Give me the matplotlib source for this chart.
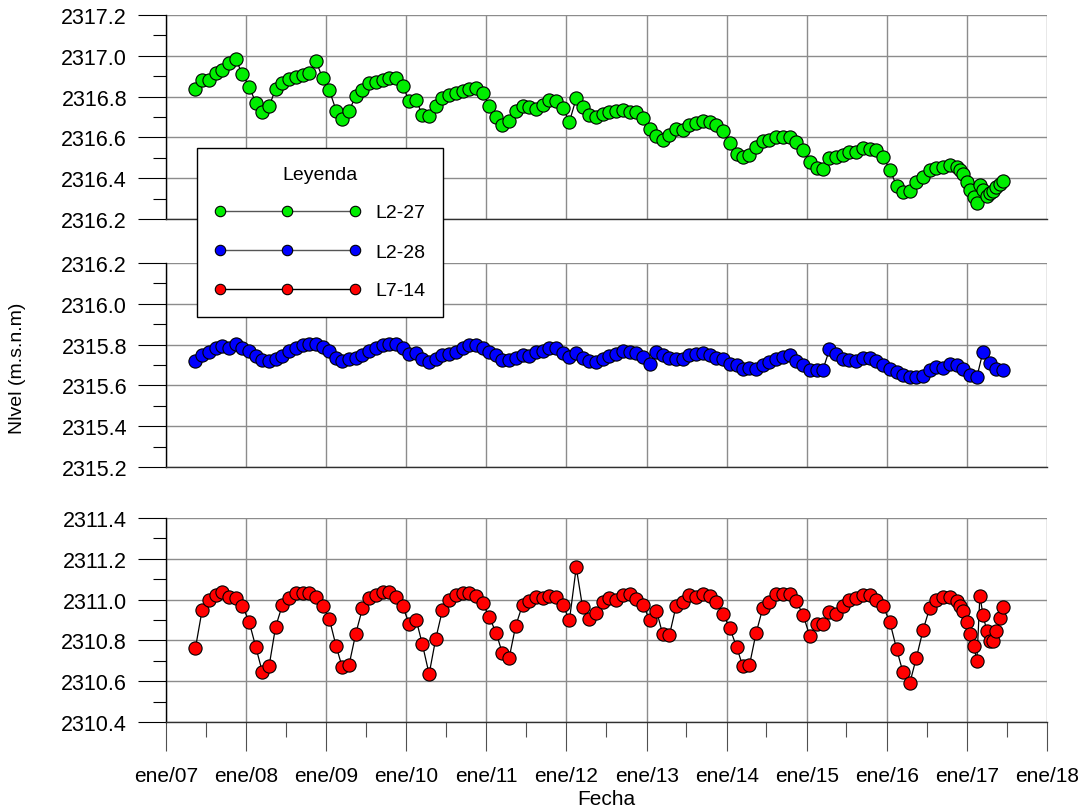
import matplotlib
matplotlib.use("Agg")
import matplotlib.pyplot as plt
import matplotlib.dates as mdates
from matplotlib.lines import Line2D
from matplotlib.ticker import MultipleLocator, FormatStrFormatter, FuncFormatter
import numpy as np
import pandas as pd

# fechas de medicion: mensual hasta nov/16, luego quincenal
fechas = pd.to_datetime([
    "2007-05-15", "2007-06-15", "2007-07-15", "2007-08-15", "2007-09-15", "2007-10-15", "2007-11-15", "2007-12-15",
    "2008-01-15", "2008-02-15", "2008-03-15", "2008-04-15", "2008-05-15", "2008-06-15",
    "2008-07-15", "2008-08-15", "2008-09-15", "2008-10-15", "2008-11-15", "2008-12-15",
    "2009-01-15", "2009-02-15", "2009-03-15", "2009-04-15", "2009-05-15", "2009-06-15",
    "2009-07-15", "2009-08-15", "2009-09-15", "2009-10-15", "2009-11-15", "2009-12-15",
    "2010-01-15", "2010-02-15", "2010-03-15", "2010-04-15", "2010-05-15", "2010-06-15",
    "2010-07-15", "2010-08-15", "2010-09-15", "2010-10-15", "2010-11-15", "2010-12-15",
    "2011-01-15", "2011-02-15", "2011-03-15", "2011-04-15", "2011-05-15", "2011-06-15",
    "2011-07-15", "2011-08-15", "2011-09-15", "2011-10-15", "2011-11-15", "2011-12-15",
    "2012-01-15", "2012-02-15", "2012-03-15", "2012-04-15", "2012-05-15", "2012-06-15",
    "2012-07-15", "2012-08-15", "2012-09-15", "2012-10-15", "2012-11-15", "2012-12-15",
    "2013-01-15", "2013-02-15", "2013-03-15", "2013-04-15", "2013-05-15", "2013-06-15",
    "2013-07-15", "2013-08-15", "2013-09-15", "2013-10-15", "2013-11-15", "2013-12-15",
    "2014-01-15", "2014-02-15", "2014-03-15", "2014-04-15", "2014-05-15", "2014-06-15",
    "2014-07-15", "2014-08-15", "2014-09-15", "2014-10-15", "2014-11-15", "2014-12-15",
    "2015-01-15", "2015-02-15", "2015-03-15", "2015-04-15", "2015-05-15", "2015-06-15",
    "2015-07-15", "2015-08-15", "2015-09-15", "2015-10-15", "2015-11-15", "2015-12-15",
    "2016-01-15", "2016-02-15", "2016-03-15", "2016-04-15", "2016-05-15", "2016-06-15",
    "2016-07-15", "2016-08-15", "2016-09-15", "2016-10-15", "2016-11-15",
    "2016-12-01", "2016-12-15", "2017-01-01", "2017-01-15", "2017-02-01", "2017-02-15",
    "2017-03-01", "2017-03-15", "2017-04-01", "2017-04-15", "2017-05-01", "2017-05-15",
    "2017-06-01", "2017-06-15",
])

nivel_l2_27 = [
    2316.837, 2316.883, 2316.883, 2316.914, 2316.932, 2316.963, 2316.984, 2316.911,
    2316.849, 2316.769, 2316.723, 2316.752, 2316.837, 2316.865, 2316.886, 2316.898, 2316.907, 2316.914, 2316.976, 2316.890,
    2316.832, 2316.731, 2316.690, 2316.731, 2316.801, 2316.832, 2316.865, 2316.873, 2316.883, 2316.890, 2316.891, 2316.853,
    2316.777, 2316.783, 2316.710, 2316.703, 2316.755, 2316.795, 2316.808, 2316.819, 2316.826, 2316.837, 2316.842, 2316.818,
    2316.755, 2316.699, 2316.662, 2316.682, 2316.731, 2316.755, 2316.748, 2316.739, 2316.760, 2316.783, 2316.777, 2316.744,
    2316.677, 2316.792, 2316.750, 2316.710, 2316.701, 2316.715, 2316.723, 2316.731, 2316.736, 2316.726, 2316.723, 2316.695,
    2316.641, 2316.608, 2316.587, 2316.612, 2316.641, 2316.638, 2316.661, 2316.671, 2316.682, 2316.677, 2316.661, 2316.633,
    2316.574, 2316.519, 2316.502, 2316.515, 2316.554, 2316.581, 2316.589, 2316.600, 2316.603, 2316.603, 2316.579, 2316.538,
    2316.478, 2316.450, 2316.445, 2316.499, 2316.505, 2316.515, 2316.527, 2316.527, 2316.547, 2316.543, 2316.538, 2316.505,
    2316.442, 2316.363, 2316.331, 2316.339, 2316.380, 2316.407, 2316.440, 2316.450, 2316.453, 2316.465, 2316.456,
    2316.440, 2316.421, 2316.383, 2316.344, 2316.309, 2316.278, 2316.367, 2316.344, 2316.314, 2316.326, 2316.339, 2316.355,
    2316.372, 2316.388,
]

# L2-28 solo tiene lecturas mensuales (None en las quincenales)
nivel_l2_28 = [
    2315.719, 2315.747, 2315.763, 2315.785, 2315.793, 2315.785, 2315.801, 2315.785,
    2315.771, 2315.743, 2315.724, 2315.722, 2315.731, 2315.743, 2315.768, 2315.781, 2315.796, 2315.801, 2315.804, 2315.790,
    2315.768, 2315.735, 2315.719, 2315.727, 2315.735, 2315.747, 2315.768, 2315.785, 2315.796, 2315.801, 2315.801, 2315.781,
    2315.752, 2315.757, 2315.731, 2315.716, 2315.731, 2315.747, 2315.755, 2315.763, 2315.781, 2315.796, 2315.796, 2315.785,
    2315.763, 2315.747, 2315.724, 2315.724, 2315.735, 2315.748, 2315.743, 2315.765, 2315.768, 2315.785, 2315.781, 2315.757,
    2315.738, 2315.757, 2315.732, 2315.719, 2315.716, 2315.727, 2315.743, 2315.752, 2315.768, 2315.763, 2315.757, 2315.740,
    2315.707, 2315.763, 2315.748, 2315.732, 2315.727, 2315.731, 2315.747, 2315.755, 2315.760, 2315.747, 2315.735, 2315.727,
    2315.707, 2315.698, 2315.681, 2315.686, 2315.681, 2315.702, 2315.714, 2315.731, 2315.738, 2315.747, 2315.719, 2315.698,
    2315.674, 2315.674, 2315.674, 2315.776, 2315.752, 2315.731, 2315.724, 2315.719, 2315.735, 2315.735, 2315.719, 2315.702,
    2315.678, 2315.665, 2315.653, 2315.640, 2315.640, 2315.645, 2315.674, 2315.691, 2315.686, 2315.707, 2315.698,
    None, 2315.681, None, 2315.653, None, 2315.640, None, 2315.765, None, 2315.711, None, 2315.681,
    None, 2315.674,
]

nivel_l7_14 = [
    2310.761, 2310.950, 2310.998, 2311.024, 2311.036, 2311.014, 2311.008, 2310.970,
    2310.892, 2310.766, 2310.647, 2310.673, 2310.867, 2310.974, 2311.008, 2311.031, 2311.031, 2311.031, 2311.011, 2310.970,
    2310.905, 2310.771, 2310.668, 2310.681, 2310.831, 2310.957, 2311.008, 2311.024, 2311.036, 2311.036, 2311.014, 2310.967,
    2310.880, 2310.901, 2310.782, 2310.635, 2310.807, 2310.950, 2310.998, 2311.024, 2311.031, 2311.032, 2311.019, 2310.983,
    2310.913, 2310.836, 2310.737, 2310.714, 2310.872, 2310.974, 2310.992, 2311.011, 2311.008, 2311.016, 2311.011, 2310.975,
    2310.900, 2311.158, 2310.962, 2310.905, 2310.934, 2310.987, 2311.006, 2310.998, 2311.024, 2311.027, 2311.003, 2310.974,
    2310.901, 2310.946, 2310.831, 2310.826, 2310.967, 2310.987, 2311.024, 2311.011, 2311.027, 2311.016, 2310.990, 2310.929,
    2310.861, 2310.769, 2310.676, 2310.679, 2310.835, 2310.959, 2310.990, 2311.027, 2311.027, 2311.027, 2310.992, 2310.926,
    2310.823, 2310.880, 2310.880, 2310.941, 2310.929, 2310.970, 2311.000, 2311.008, 2311.024, 2311.024, 2311.000, 2310.967,
    2310.892, 2310.758, 2310.644, 2310.590, 2310.714, 2310.852, 2310.959, 2311.000, 2311.011, 2311.011, 2310.992,
    2310.967, 2310.943, 2310.892, 2310.831, 2310.774, 2310.698, 2311.019, 2310.925, 2310.848, 2310.796, 2310.799, 2310.848,
    2310.908, 2310.962,
]

pozos = ["L2-27", "L2-28", "L7-14"]
colores = ["#00ee00", "#0000ff", "#ff0000"]
rangos = [(2316.2, 2317.2), (2315.2, 2316.2), (2310.4, 2311.4)]
series = [nivel_l2_27, nivel_l2_28, nivel_l7_14]

FUENTE = "Liberation Sans"
ANGOSTA = ["Liberation Sans Narrow", "Liberation Sans"]

fig = plt.figure(figsize=(10.83, 8.12), dpi=100)
izq, ancho, alto = 166 / 1083, 881 / 1083, 204 / 812
bases = [1 - 220 / 812, 1 - 468 / 812, 1 - 723 / 812]

x0, x1 = pd.Timestamp("2007-01-01"), pd.Timestamp("2018-01-01")

for i, (nombre, color, (ymin, ymax), valores) in enumerate(zip(pozos, colores, rangos, series)):
    ax = fig.add_axes([izq, bases[i], ancho, alto])
    y = np.array(valores, dtype=float)
    ok = ~np.isnan(y)
    ax.plot(fechas[ok], y[ok], color="black", lw=0.9, marker="o", ms=9.5,
            mfc=color, mec="black", mew=0.8, zorder=3)

    ax.set_xlim(x0, x1)
    ax.set_ylim(ymin, ymax)
    ax.yaxis.set_major_locator(MultipleLocator(0.2))
    ax.yaxis.set_minor_locator(MultipleLocator(0.1))
    ax.yaxis.set_major_formatter(FormatStrFormatter("%.1f"))
    ax.xaxis.set_major_locator(mdates.YearLocator(1))
    ax.xaxis.set_minor_locator(mdates.MonthLocator(bymonth=7))

    ax.grid(True, which="major", color="#8c8c8c", lw=1.0)
    ax.set_axisbelow(True)
    for lado in ["top", "right"]:
        ax.spines[lado].set_visible(False)
    ax.spines["left"].set_color("black")
    ax.spines["left"].set_linewidth(1.0)
    ax.spines["bottom"].set_color("#303030")
    ax.spines["bottom"].set_linewidth(1.0)

    ax.tick_params(axis="y", which="major", direction="out", length=20, width=0.8,
                   pad=8, labelsize=15.5, color="black")
    ax.tick_params(axis="y", which="minor", direction="out", length=9.5, width=0.8, color="black")
    for t in ax.get_yticklabels():
        t.set_fontfamily(FUENTE)

    if i < 2:
        ax.tick_params(axis="x", which="both", length=0, labelbottom=False)
    else:
        ax.xaxis.set_major_formatter(FuncFormatter(
            lambda v, pos: "ene/" + mdates.num2date(v).strftime("%y")))
        ax.tick_params(axis="x", which="major", direction="out", length=21, width=0.8,
                       color="#505050", pad=11, labelsize=15)
        ax.tick_params(axis="x", which="minor", direction="out", length=11, width=0.8,
                       color="#505050")
        for t in ax.get_xticklabels():
            t.set_fontfamily(ANGOSTA)

fig.text(18 / 1083, 1 - 368 / 812, "Nlvel (m.s.n.m)", rotation=90, ha="center", va="center",
         fontsize=14, family=ANGOSTA)
fig.text(606 / 1083, 1 - 800 / 812, "Fecha", ha="center", va="center",
         fontsize=15, family=ANGOSTA)

lineas_ley = ["#555555", "#555555", "black"]
handles = [Line2D([], [], color=lc, lw=1.0, marker="o", ms=7.5, mfc=c, mec="black", mew=0.8)
           for c, lc in zip(colores, lineas_ley)]
ley = fig.legend(handles, pozos, title="Leyenda", loc="upper left",
                 bbox_to_anchor=(197 / 1083, 1 - 149 / 812), bbox_transform=fig.transFigure,
                 borderaxespad=0, numpoints=3, handlelength=7.5, handletextpad=0.75,
                 labelspacing=1.1, borderpad=0.9, fancybox=False, framealpha=1,
                 edgecolor="black", prop={"family": FUENTE, "size": 14},
                 title_fontproperties={"family": FUENTE, "size": 14})
ley.get_frame().set_linewidth(1.0)
ley.set_zorder(10)

fig.savefig("out.png", dpi=100)
